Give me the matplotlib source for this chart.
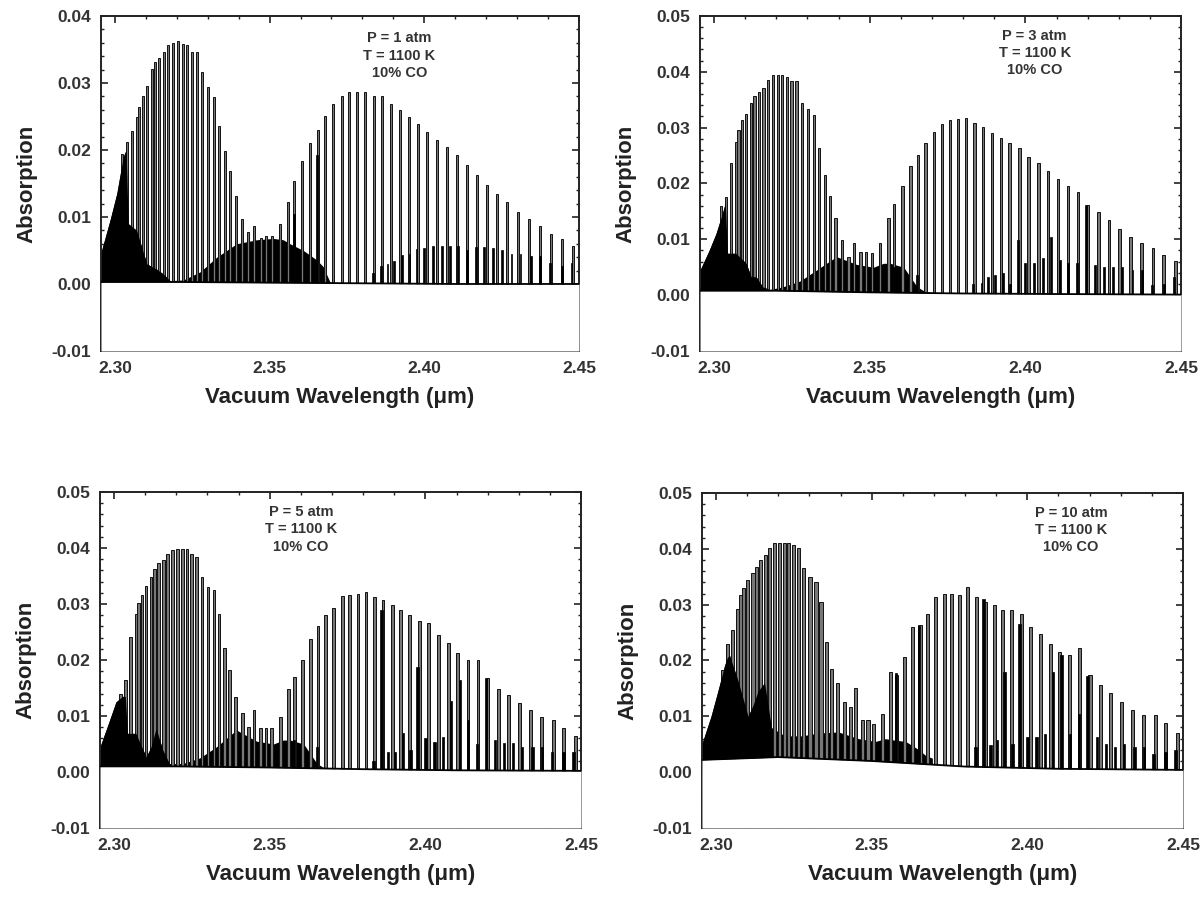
import numpy as np
import matplotlib
matplotlib.use("Agg")
import matplotlib.pyplot as plt
from matplotlib.ticker import MultipleLocator, FormatStrFormatter

plt.rcParams['font.family'] = ['Liberation Sans', 'DejaVu Sans']

# --- line positions (um), shared by the four panels ---
r_pos = [2.30217, 2.30379, 2.30541, 2.30702, 2.30788, 2.30896, 2.31025, 2.31187,
         2.31295, 2.31435, 2.31586, 2.31726, 2.31887, 2.32049, 2.32189, 2.32340,
         2.32480, 2.32641, 2.32824, 2.33018, 2.33212, 2.33374, 2.33557, 2.33719,
         2.33902, 2.34117, 2.34311, 2.34494, 2.34710, 2.34882, 2.35065, 2.35335]
p_pos = [2.35604, 2.35787, 2.36056, 2.36304, 2.36552, 2.36789, 2.37058, 2.37327,
         2.37575, 2.37833, 2.38092, 2.38361, 2.38641, 2.38932, 2.39212, 2.39492,
         2.39805, 2.40096, 2.40419, 2.40731, 2.41044, 2.41367, 2.41690, 2.42014,
         2.42348, 2.42682, 2.43026, 2.43382, 2.43727, 2.44104, 2.44438, 2.44815]
hot_pos = [2.3578, 2.3652, 2.3833, 2.3859, 2.3881, 2.3902, 2.3927, 2.3952, 2.3975,
           2.4000, 2.4029, 2.4056, 2.4083, 2.4110, 2.4137, 2.4166, 2.4194, 2.4223,
           2.4252, 2.4282, 2.4311, 2.4344, 2.4374, 2.4406, 2.4444, 2.4476]
# envelope of the dense / hot-band black region
fill_x = [2.2955, 2.2984, 2.3006, 2.3027, 2.3036, 2.3043, 2.3070, 2.3103, 2.3119,
          2.3135, 2.3156, 2.3178, 2.3221, 2.3275, 2.3329, 2.3393, 2.3458, 2.3512,
          2.3544, 2.3566, 2.3609, 2.3652, 2.3673, 2.3695]
n_head = 12   # band-head region where the lines merge into solid black
base_x = [2.2955, 2.32, 2.35, 2.38, 2.41, 2.45]

# --- peak heights per panel ---
r_1atm = [0.0194, 0.0212, 0.0229, 0.0249, 0.0264, 0.0281, 0.0295, 0.0321, 0.0331, 0.0337,
          0.0347, 0.0356, 0.0360, 0.0362, 0.0358, 0.0356, 0.0347, 0.0346, 0.0317, 0.0294,
          0.0279, 0.0236, 0.0199, 0.0168, 0.0132, 0.0097, 0.0077, 0.0087, 0.0068, 0.0072,
          0.0072, 0.0089]
p_1atm = [0.0123, 0.0153, 0.0183, 0.0210, 0.0230, 0.0251, 0.0269, 0.0281, 0.0287, 0.0287,
          0.0287, 0.0281, 0.0280, 0.0269, 0.0260, 0.0249, 0.0239, 0.0227, 0.0215, 0.0204,
          0.0193, 0.0177, 0.0162, 0.0148, 0.0135, 0.0123, 0.0108, 0.0097, 0.0086, 0.0075,
          0.0067, 0.0057]
hot_1atm = [0.0104, 0.0192, 0.0017, 0.0027, 0.0030, 0.0035, 0.0043, 0.0045, 0.0052, 0.0053,
            0.0057, 0.0057, 0.0057, 0.0057, 0.0050, 0.0055, 0.0055, 0.0053, 0.0051, 0.0045,
            0.0045, 0.0042, 0.0042, 0.0032, 0.0027, 0.0032]
fill_1atm = [0.0047, 0.0095, 0.0135, 0.0190, 0.0200, 0.0090, 0.0080, 0.0030, 0.0026, 0.0022,
             0.0015, 0.0005, 0.0006, 0.0018, 0.0040, 0.0060, 0.0066, 0.0068, 0.0066, 0.0060,
             0.0050, 0.0036, 0.0026, 0.0003]
base_1atm = [0.0003, 0.0003, 0.0002, 0.0001, 0.0000, 0.0000]

r_3atm = [0.0160, 0.0176, 0.0236, 0.0275, 0.0296, 0.0314, 0.0325, 0.0344, 0.0356, 0.0363,
          0.0371, 0.0386, 0.0395, 0.0395, 0.0395, 0.0391, 0.0384, 0.0384, 0.0345, 0.0333,
          0.0323, 0.0263, 0.0216, 0.0177, 0.0138, 0.0099, 0.0069, 0.0094, 0.0078, 0.0078,
          0.0075, 0.0094]
p_3atm = [0.0138, 0.0164, 0.0196, 0.0232, 0.0251, 0.0272, 0.0293, 0.0307, 0.0314, 0.0316,
          0.0317, 0.0309, 0.0302, 0.0291, 0.0281, 0.0273, 0.0263, 0.0248, 0.0236, 0.0223,
          0.0208, 0.0196, 0.0184, 0.0162, 0.0149, 0.0135, 0.0119, 0.0105, 0.0094, 0.0084,
          0.0072, 0.0062]
hot_3atm = [0.0050, 0.0036, 0.0020, 0.0022, 0.0033, 0.0036, 0.0039, 0.0020, 0.0099, 0.0057,
            0.0057, 0.0066, 0.0105, 0.0063, 0.0057, 0.0057, 0.0162, 0.0054, 0.0051, 0.0051,
            0.0051, 0.0045, 0.0045, 0.0018, 0.0020, 0.0033]
fill_3atm = [0.0045, 0.0080, 0.0110, 0.0147, 0.0165, 0.0075, 0.0075, 0.0057, 0.0033, 0.0033,
             0.0015, 0.0010, 0.0015, 0.0025, 0.0045, 0.0069, 0.0055, 0.0050, 0.0057, 0.0057,
             0.0050, 0.0015, 0.0008, 0.0005]
base_3atm = [0.0008, 0.0008, 0.0005, 0.0003, 0.0002, 0.0001]

r_5atm = [0.0140, 0.0165, 0.0241, 0.0283, 0.0301, 0.0316, 0.0333, 0.0349, 0.0362, 0.0373,
          0.0379, 0.0389, 0.0396, 0.0399, 0.0399, 0.0399, 0.0389, 0.0384, 0.0349, 0.0331,
          0.0325, 0.0283, 0.0221, 0.0182, 0.0134, 0.0105, 0.0081, 0.0111, 0.0078, 0.0078,
          0.0078, 0.0099]
p_5atm = [0.0149, 0.0170, 0.0200, 0.0237, 0.0260, 0.0280, 0.0292, 0.0314, 0.0316, 0.0318,
          0.0322, 0.0313, 0.0308, 0.0298, 0.0289, 0.0280, 0.0269, 0.0266, 0.0245, 0.0230,
          0.0212, 0.0200, 0.0200, 0.0167, 0.0149, 0.0138, 0.0123, 0.0111, 0.0098, 0.0092,
          0.0078, 0.0064]
hot_5atm = [0.0057, 0.0045, 0.0020, 0.0290, 0.0036, 0.0036, 0.0069, 0.0040, 0.0188, 0.0060,
            0.0054, 0.0063, 0.0126, 0.0164, 0.0093, 0.0050, 0.0167, 0.0057, 0.0051, 0.0051,
            0.0045, 0.0045, 0.0045, 0.0036, 0.0036, 0.0036]
fill_5atm = [0.0045, 0.0090, 0.0125, 0.0135, 0.0135, 0.0069, 0.0069, 0.0027, 0.0045, 0.0078,
             0.0040, 0.0015, 0.0015, 0.0025, 0.0045, 0.0075, 0.0055, 0.0050, 0.0057, 0.0057,
             0.0050, 0.0015, 0.0008, 0.0005]
base_5atm = [0.0010, 0.0010, 0.0008, 0.0005, 0.0003, 0.0002]

r_10atm = [0.0183, 0.0230, 0.0254, 0.0293, 0.0317, 0.0329, 0.0344, 0.0356, 0.0368, 0.0380,
           0.0389, 0.0401, 0.0410, 0.0410, 0.0410, 0.0410, 0.0407, 0.0401, 0.0365, 0.0350,
           0.0341, 0.0305, 0.0233, 0.0185, 0.0159, 0.0126, 0.0117, 0.0150, 0.0093, 0.0093,
           0.0087, 0.0105]
p_10atm = [0.0180, 0.0174, 0.0207, 0.0260, 0.0263, 0.0284, 0.0314, 0.0320, 0.0319, 0.0317,
           0.0331, 0.0314, 0.0305, 0.0299, 0.0291, 0.0290, 0.0284, 0.0260, 0.0248, 0.0230,
           0.0216, 0.0210, 0.0222, 0.0174, 0.0156, 0.0141, 0.0126, 0.0112, 0.0102, 0.0102,
           0.0088, 0.0070]
hot_10atm = [0.0177, 0.0262, 0.0045, 0.0310, 0.0048, 0.0057, 0.0180, 0.0051, 0.0266, 0.0063,
             0.0063, 0.0069, 0.0180, 0.0210, 0.0069, 0.0105, 0.0173, 0.0063, 0.0051, 0.0045,
             0.0051, 0.0045, 0.0045, 0.0033, 0.0036, 0.0039]
fill_10atm = [0.0051, 0.0100, 0.0145, 0.0190, 0.0205, 0.0210, 0.0165, 0.0100, 0.0120, 0.0145,
              0.0160, 0.0080, 0.0065, 0.0065, 0.0070, 0.0072, 0.0060, 0.0055, 0.0060, 0.0058,
              0.0055, 0.0040, 0.0030, 0.0025]
base_10atm = [0.0022, 0.0027, 0.0020, 0.0010, 0.0006, 0.0004]

labels = ["P = 1 atm\nT = 1100 K\n10% CO", "P = 3 atm\nT = 1100 K\n10% CO",
          "P = 5 atm\nT = 1100 K\n10% CO", "P = 10 atm\nT = 1100 K\n10% CO"]
label_x = [2.392, 2.403, 2.360, 2.414]
ytops = [0.04, 0.05, 0.05, 0.05]

panels = [
    (r_1atm, p_1atm, hot_1atm, fill_1atm, base_1atm),
    (r_3atm, p_3atm, hot_3atm, fill_3atm, base_3atm),
    (r_5atm, p_5atm, hot_5atm, fill_5atm, base_5atm),
    (r_10atm, p_10atm, hot_10atm, fill_10atm, base_10atm),
]
rects = [[0.0841, 0.6096, 0.3980, 0.3726], [0.5829, 0.6096, 0.4005, 0.3726],
         [0.0833, 0.0790, 0.4005, 0.3737], [0.5845, 0.0790, 0.4005, 0.3726]]
bar_w = [0.0007, 0.0008, 0.0009, 0.0010]

fig = plt.figure(figsize=(12.01, 8.99), dpi=100)
txt = '#333333'

for i, (r_h, p_h, hot_h, fill_y, base_y) in enumerate(panels):
    ax = fig.add_axes(rects[i])
    # hot band / overlapping wings behind the main lines
    ax.fill_between(fill_x, 0, fill_y, color='black', lw=0, zorder=1)
    ax.bar(r_pos + p_pos, r_h + p_h, width=bar_w[i], color='#777777',
           edgecolor='#111111', linewidth=0.7, zorder=2)
    # band-head region is solid black over the lines
    ax.fill_between(fill_x[:n_head], 0, fill_y[:n_head], color='black', lw=0, zorder=2.5)
    ax.bar(hot_pos, hot_h, width=bar_w[i] * 0.8, color='black',
           edgecolor='black', linewidth=0.5, zorder=3)
    # white below the continuum, then the continuum itself
    ax.fill_between(base_x, -0.01, base_y, color='white', lw=0, zorder=4)
    ax.plot(base_x, base_y, color='black', lw=1.3, zorder=5)

    ax.set_xlim(2.2955, 2.45)
    ax.set_ylim(-0.01, ytops[i])
    ax.xaxis.set_major_locator(MultipleLocator(0.05))
    ax.xaxis.set_minor_locator(MultipleLocator(0.01))
    ax.yaxis.set_major_locator(MultipleLocator(0.01))
    ax.yaxis.set_minor_locator(MultipleLocator(0.002))
    ax.xaxis.set_major_formatter(FormatStrFormatter('%.2f'))
    ax.yaxis.set_major_formatter(FormatStrFormatter('%.2f'))
    ax.tick_params(which='both', direction='in', top=True, right=True, color='#222222')
    ax.tick_params(which='major', length=5, width=1.2, pad=7, labelsize=12.5, labelcolor=txt)
    ax.tick_params(which='minor', length=2.5, width=1.0)
    for lab in ax.get_xticklabels() + ax.get_yticklabels():
        lab.set_fontweight('bold')
    for sp in ax.spines.values():
        sp.set_linewidth(1.4)
        sp.set_color('#222222')
    ax.set_xlabel('Vacuum Wavelength (\u03bcm)', fontsize=16, fontweight='bold',
                  color='#222222', labelpad=8)
    ax.set_ylabel('Absorption', fontsize=16, fontweight='bold', color='#222222', labelpad=10)
    ax.text(label_x[i], ytops[i] - 0.0023, labels[i], ha='center', va='top',
            fontsize=10.5, fontweight='bold', color=txt, linespacing=1.3, zorder=6)

fig.savefig('out.png', dpi=100)
